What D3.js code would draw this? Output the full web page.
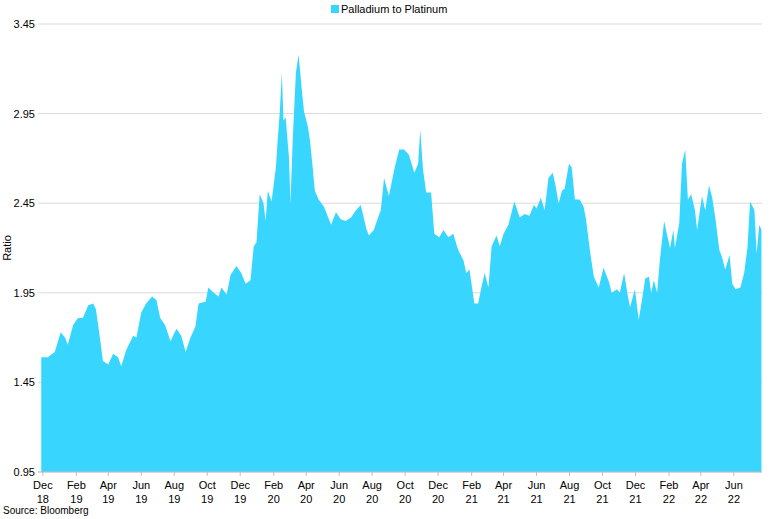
<!DOCTYPE html>
<html><head><meta charset="utf-8">
<script src="https://cdn.jsdelivr.net/npm/d3@7"></script>
<style>body{margin:0;background:#fff;font-family:"Liberation Sans",Arial,sans-serif}</style>
</head><body><svg id="c" width="770" height="519"></svg>
<script>
const seriesName = "Palladium to Platinum";
const startDate = "2018-12-01";
const dayOffsets = [-3,0,9,22,33,41,46,56,65,74,84,93,98,106,111,121,130,139,145,154,167,173,182,191,202,210,217,226,236,247,256,264,273,282,288,301,306,316,325,330,340,347,358,367,375,384,390,395,401,408,412,416,423,431,434,438,442,445,449,455,458,462,468,473,479,483,490,494,499,503,510,520,533,542,551,560,570,579,588,598,603,612,620,625,631,640,650,659,668,677,687,694,698,703,709,718,724,733,741,750,759,768,778,783,789,798,805,811,817,824,830,839,845,852,861,872,882,891,900,908,913,921,928,935,943,948,954,960,965,973,978,984,993,1000,1004,1010,1013,1019,1028,1037,1047,1052,1062,1067,1075,1082,1086,1095,1102,1108,1114,1121,1125,1130,1136,1141,1149,1154,1160,1166,1169,1177,1182,1188,1193,1199,1206,1210,1219,1225,1232,1238,1244,1251,1256,1262,1270,1275,1281,1290,1297,1303,1308,1316,1320,1325,1329];
const ratioValues = [1.59,1.59,1.59,1.62,1.73,1.70,1.66,1.77,1.81,1.81,1.88,1.89,1.86,1.69,1.57,1.55,1.61,1.59,1.54,1.63,1.71,1.70,1.84,1.89,1.93,1.91,1.81,1.77,1.68,1.75,1.71,1.62,1.70,1.76,1.89,1.90,1.98,1.95,1.93,1.98,1.94,2.05,2.10,2.06,2.00,2.02,2.21,2.23,2.50,2.45,2.35,2.52,2.46,2.65,2.79,2.95,3.18,2.91,2.93,2.71,2.45,2.80,3.18,3.28,3.08,2.96,2.88,2.80,2.65,2.52,2.47,2.43,2.33,2.40,2.36,2.35,2.37,2.41,2.44,2.31,2.27,2.30,2.37,2.41,2.59,2.49,2.64,2.75,2.75,2.72,2.62,2.67,2.86,2.64,2.51,2.51,2.28,2.26,2.30,2.26,2.28,2.19,2.13,2.06,2.08,1.89,1.89,1.98,2.06,1.98,2.21,2.27,2.21,2.28,2.33,2.46,2.37,2.39,2.38,2.44,2.42,2.48,2.41,2.59,2.62,2.55,2.45,2.52,2.53,2.67,2.65,2.47,2.47,2.43,2.37,2.23,2.16,2.04,1.98,2.09,2.01,1.95,1.97,1.95,2.06,1.93,1.87,1.97,1.80,1.91,2.03,2.04,1.95,2.02,1.95,2.13,2.35,2.28,2.20,2.30,2.20,2.34,2.67,2.75,2.47,2.50,2.41,2.30,2.49,2.41,2.55,2.48,2.36,2.19,2.15,2.08,2.16,2.00,1.97,1.98,2.06,2.20,2.46,2.41,2.17,2.33,2.30];
const yTicks = [0.95,1.45,1.95,2.45,2.95,3.45];
const monthNames = ["Jan","Feb","Mar","Apr","May","Jun","Jul","Aug","Sep","Oct","Nov","Dec"];

const base = new Date(startDate+"T00:00:00");
const data = dayOffsets.map((d,i)=>({date:d3.timeDay.offset(base,d), v:ratioValues[i]}));
const svg = d3.select("#c");
const L=38,R=762,T=24,B=472;
const x = d3.scaleTime().domain([new Date(2018,10,22), new Date(2022,6,23)]).range([L,R]);
const y = d3.scaleLinear().domain([0.95,3.45]).range([B,T]);

svg.append("g").selectAll("line").data(yTicks).join("line")
  .attr("x1",L).attr("x2",R).attr("y1",d=>y(d)).attr("y2",d=>y(d))
  .attr("stroke","#dadada").attr("stroke-width",1);
svg.append("g").selectAll("text").data(yTicks).join("text")
  .attr("x",L-3).attr("y",d=>y(d)+4).attr("text-anchor","end")
  .attr("font-size",11).attr("fill","#000").text(d=>d.toFixed(2));

const area = d3.area().x(d=>x(d.date)).y0(y(0.95)).y1(d=>y(d.v));
svg.append("path").datum(data).attr("d",area).attr("fill","#38D6FF");

svg.append("line").attr("x1",L).attr("x2",R).attr("y1",B).attr("y2",B).attr("stroke","#bfbfbf");
const months = d3.timeMonth.every(2).range(new Date(2018,11,1), new Date(2022,6,2)).filter(m=>m.getMonth()%2===1 || m.getMonth()===11);
const mt = d3.timeMonth.range(new Date(2018,11,1), new Date(2022,6,2)).filter((m,i)=>i%2===0);
const tg = svg.append("g").selectAll("g").data(mt).join("g").attr("transform",d=>`translate(${x(d)},0)`);
tg.append("line").attr("y1",B).attr("y2",B+4).attr("stroke","#bfbfbf");
tg.append("text").attr("y",B+17).attr("text-anchor","middle").attr("font-size",11).text(d=>monthNames[d.getMonth()]);
tg.append("text").attr("y",B+31).attr("text-anchor","middle").attr("font-size",11).text(d=>String(d.getFullYear()).slice(2));

svg.append("text").attr("transform","translate(11,248) rotate(-90)").attr("text-anchor","middle").attr("font-size",11).text("Ratio");
const lg = svg.append("g");
lg.append("rect").attr("x",331).attr("y",5).attr("width",8).attr("height",8).attr("fill","#38D6FF");
lg.append("text").attr("x",341).attr("y",13).attr("font-size",11).text(seriesName);
svg.append("text").attr("x",3).attr("y",514).attr("font-size",10).text("Source: Bloomberg");
</script></body></html>
